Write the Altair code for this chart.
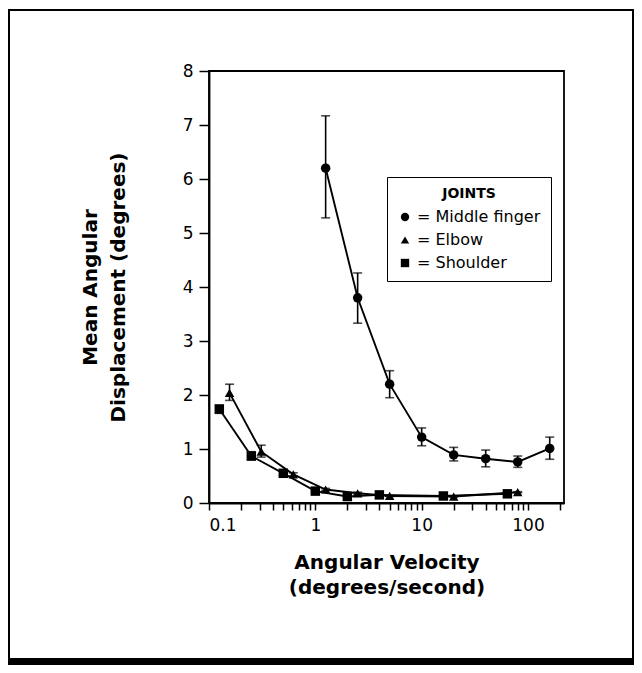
import altair as alt
import pandas as pd

joints = ["Middle finger", "Elbow", "Shoulder"]
shapes = ["circle", "triangle-up", "square"]

finger_x = [1.25, 2.5, 5, 10, 20, 40, 80, 160]
finger_y = [6.2, 3.8, 2.2, 1.22, 0.89, 0.82, 0.76, 1.01]
finger_lo = [5.28, 3.33, 1.95, 1.06, 0.78, 0.67, 0.66, 0.81]
finger_hi = [7.17, 4.26, 2.45, 1.39, 1.03, 0.98, 0.87, 1.22]

elbow_x = [0.156, 0.31, 0.62, 1.25, 2.5, 5, 20, 80]
elbow_y = [2.04, 0.95, 0.53, 0.25, 0.18, 0.13, 0.12, 0.2]
elbow_lo = [1.9, 0.85, 0.5, 0.23, 0.16, 0.12, 0.11, 0.19]
elbow_hi = [2.2, 1.07, 0.56, 0.27, 0.2, 0.14, 0.13, 0.21]

shoulder_x = [0.125, 0.25, 0.5, 1, 2, 4, 16, 64]
shoulder_y = [1.74, 0.87, 0.55, 0.22, 0.12, 0.15, 0.13, 0.17]
shoulder_lo = [1.66, 0.8, 0.52, 0.2, 0.11, 0.14, 0.12, 0.16]
shoulder_hi = [1.81, 0.95, 0.58, 0.24, 0.13, 0.16, 0.14, 0.18]

x_ticks = [0.1, 0.2, 0.3, 0.4, 0.5, 0.6, 0.7, 0.8, 0.9,
           1, 2, 3, 4, 5, 6, 7, 8, 9,
           10, 20, 30, 40, 50, 60, 70, 80, 90,
           100, 200]
x_labeled = [0.1, 1, 10, 100]
y_ticks = [0, 1, 2, 3, 4, 5, 6, 7, 8]

rows = []
for name, xs, ys, los, his in [
    (joints[0], finger_x, finger_y, finger_lo, finger_hi),
    (joints[1], elbow_x, elbow_y, elbow_lo, elbow_hi),
    (joints[2], shoulder_x, shoulder_y, shoulder_lo, shoulder_hi),
]:
    for a, b, c, d in zip(xs, ys, los, his):
        rows.append({"joint": name, "v": a, "d": b, "lo": c, "hi": d})
df = pd.DataFrame(rows)

FONT = "DejaVu Sans"

xscale = alt.Scale(type="log", domain=[0.1, 218], nice=False)
yscale = alt.Scale(domain=[0, 8], nice=False)

label_test = " || ".join(f"datum.value == {v}" for v in x_labeled)
x_axis = alt.Axis(
    values=x_ticks,
    labelExpr=f"({label_test}) ? datum.label : ''",
    tickSize=7, labelPadding=7, grid=False,
    title=["Angular Velocity", "(degrees/second)"],
    titleY=65, titleBaseline="alphabetic", titleLineHeight=25,
)
y_axis = alt.Axis(
    values=y_ticks, tickSize=10, labelPadding=6, grid=False,
    title=["Mean Angular", "Displacement (degrees)"],
    titleX=-113, titleY=216, titleAngle=270, titleAlign="center",
    titleBaseline="alphabetic", titleLineHeight=28,
)

base = alt.Chart(df)
X = alt.X("v:Q", scale=xscale, axis=x_axis)

lines = base.mark_line(color="black", strokeWidth=1.9).encode(
    x=X, y=alt.Y("d:Q", scale=yscale, axis=y_axis),
    detail="joint:N", order="v:Q",
)
err = base.mark_errorbar(
    color="black", thickness=1.6, ticks={"size": 9, "thickness": 1.6}
).encode(
    x=X, y=alt.Y("lo:Q", scale=yscale, axis=y_axis), y2="hi:Q"
)
pts = base.mark_point(filled=True, size=90, opacity=1, color="black").encode(
    x=X, y=alt.Y("d:Q", scale=yscale, axis=y_axis),
    shape=alt.Shape(
        "joint:N",
        scale=alt.Scale(domain=joints, range=shapes),
        legend=alt.Legend(
            title="JOINTS", orient="none", legendX=178, legendY=106,
            labelExpr="'= ' + datum.label", titleAnchor="middle",
            padding=10, strokeColor="black", fillColor="white",
            rowPadding=7, symbolSize=70, symbolFillColor="black",
            symbolStrokeColor="black", labelFont=FONT, labelFontSize=16,
            labelColor="black", titleFont=FONT, titleFontSize=14,
            titleFontWeight="bold", titleColor="black", labelOffset=4,
            titlePadding=8, cornerRadius=0,
        ),
    ),
)

frame_src = pd.DataFrame({"k": [0]})
fb = alt.Chart(frame_src)
f_left = fb.mark_rule(color="black", strokeWidth=2).encode(
    x=alt.value(-200), y=alt.value(-61), y2=alt.value(594))
f_top = fb.mark_rule(color="black", strokeWidth=2).encode(
    x=alt.value(-201), x2=alt.value(425), y=alt.value(-61))
f_right = fb.mark_rule(color="black", strokeWidth=2).encode(
    x=alt.value(424), y=alt.value(-61), y2=alt.value(594))
f_bottom = fb.mark_rect(color="black").encode(
    x=alt.value(-201), x2=alt.value(425), y=alt.value(587), y2=alt.value(594))

chart = alt.layer(f_left, f_top, f_right, f_bottom, lines, err, pts).properties(
    width=355, height=432,
    autosize=alt.AutoSizeParams(type="none"),
    padding={"left": 201, "top": 63, "right": 70, "bottom": 162},
).configure_view(
    stroke="black", strokeWidth=1.8
).configure_axis(
    domainColor="black", domainWidth=1.8, tickColor="black", tickWidth=1.5,
    labelFont=FONT, labelFontSize=17, labelColor="black",
    titleFont=FONT, titleFontSize=20, titleFontWeight="bold", titleColor="black",
)

chart.save("out.html", embed_options={"renderer": "svg", "actions": False})
